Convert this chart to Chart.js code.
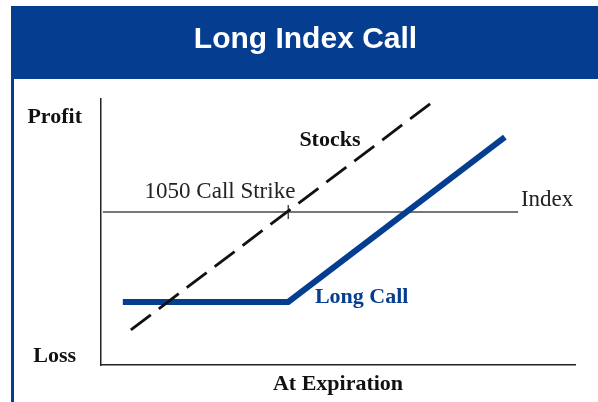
<!DOCTYPE html>
<html><head><meta charset="utf-8">
<script src="https://cdn.jsdelivr.net/npm/chart.js@4/dist/chart.umd.min.js"></script>
<style>html,body{margin:0;padding:0;background:#fff;} canvas{display:block;}</style>
</head><body>
<canvas id="c" width="598" height="402"></canvas>
<script>
const titleText = 'Long Index Call';
const xAxisTitle = 'At Expiration';
const yTickValues = [3.4, 93.2];
const yTickLabels = ['Loss', 'Profit'];
const longCallX = [4.6, 39.5, 85.2];
const longCallY = [23.7, 23.7, 85.7];
const stocksX = [6.3, 70.5];
const stocksY = [13.2, 99.6];
const indexX = [0.4, 88.0];
const indexY = [57.5, 57.5];
const strikeX = [39.5];
const strikeY = [57.5];
const seriesNames = ['Stocks', 'Long Call', 'Index', '1050 Call Strike'];

const zip = (xs, ys) => xs.map((x, i) => ({x: x, y: ys[i]}));
const BLUE = '#053e91';
const SERIF = '"Liberation Serif", "DejaVu Serif", serif';

const frame = {
  id: 'frame',
  afterInit(chart) {
    const tb = chart.titleBlock;
    if (tb && !tb._shifted) {
      const orig = tb.draw.bind(tb);
      tb.draw = function () {
        const ctx = this.ctx;
        ctx.save();
        ctx.translate(18, 0);
        orig();
        ctx.restore();
      };
      tb._shifted = true;
    }
  },
  beforeDraw(chart) {
    const ctx = chart.ctx;
    ctx.save();
    ctx.fillStyle = '#fff';
    ctx.fillRect(0, 0, chart.width, chart.height);
    ctx.fillStyle = BLUE;
    ctx.fillRect(11, 6, chart.width - 11, 73);
    ctx.fillRect(11, 79, 3, chart.height - 79);
    ctx.restore();
  }
};

const notes = {
  id: 'notes',
  afterDatasetsDraw(chart) {
    const {ctx, scales: {x, y}} = chart;
    const items = [
      {text: seriesNames[0], x: 48.3, y: 84.6, align: 'center', bold: true, color: '#111'},
      {text: seriesNames[3], x: 25.1, y: 65.2, align: 'center', bold: false, color: '#222'},
      {text: seriesNames[2], x: 88.6, y: 62.2, align: 'left', bold: false, color: '#222'},
      {text: seriesNames[1], x: 55.0, y: 25.6, align: 'center', bold: true, color: BLUE}
    ];
    ctx.save();
    ctx.textBaseline = 'middle';
    items.forEach(it => {
      ctx.font = (it.bold ? 'bold 22px ' : '23px ') + SERIF;
      ctx.fillStyle = it.color;
      ctx.textAlign = it.align;
      ctx.fillText(it.text, x.getPixelForValue(it.x), y.getPixelForValue(it.y));
    });
    ctx.restore();
  }
};

new Chart(document.getElementById('c'), {
  type: 'line',
  data: {
    datasets: [
      {label: seriesNames[0], data: zip(stocksX, stocksY), borderColor: '#111', borderWidth: 2.8, borderDash: [25, 10], pointRadius: 0, fill: false},
      {label: seriesNames[1], data: zip(longCallX, longCallY), borderColor: BLUE, borderWidth: 6, pointRadius: 0, borderJoinStyle: 'miter', borderCapStyle: 'butt', fill: false},
      {label: seriesNames[2], data: zip(indexX, indexY), borderColor: '#777', borderWidth: 2, pointRadius: 0, fill: false},
      {label: seriesNames[3], data: zip(strikeX, strikeY), showLine: false, pointStyle: 'line', rotation: 90, pointRadius: 7, borderColor: '#222', borderWidth: 1.2}
    ]
  },
  options: {
    responsive: false,
    animation: false,
    layout: {padding: {left: 0, right: 23, top: 0, bottom: 0}},
    plugins: {
      legend: {display: false},
      tooltip: {enabled: false},
      title: {
        display: true, text: titleText, color: '#fff',
        font: {family: '"Liberation Sans", Arial, sans-serif', size: 30, weight: 'bold', lineHeight: '36px'},
        padding: {top: 22, bottom: 41}
      }
    },
    scales: {
      x: {
        type: 'linear', min: 0, max: 100,
        grid: {display: false, drawTicks: false},
        border: {display: true, color: '#222', width: 1.5},
        ticks: {display: false},
        title: {display: true, text: xAxisTitle, color: '#111', font: {family: SERIF, size: 22, weight: 'bold', lineHeight: '24px'}, padding: {top: 0, bottom: 6}},
        afterFit(s) { s.height = 37; }
      },
      y: {
        type: 'linear', min: 0, max: 100,
        grid: {display: false, drawTicks: false},
        border: {display: true, color: '#222', width: 1.5},
        ticks: {
          color: '#111', font: {family: SERIF, size: 22, weight: 'bold'}, padding: 19, crossAlign: 'center',
          callback: (v, i) => yTickLabels[i]
        },
        afterBuildTicks(s) { s.ticks = yTickValues.map(v => ({value: v})); },
        afterFit(s) { s.width = 101; }
      }
    }
  },
  plugins: [frame, notes]
});
</script>
</body></html>
